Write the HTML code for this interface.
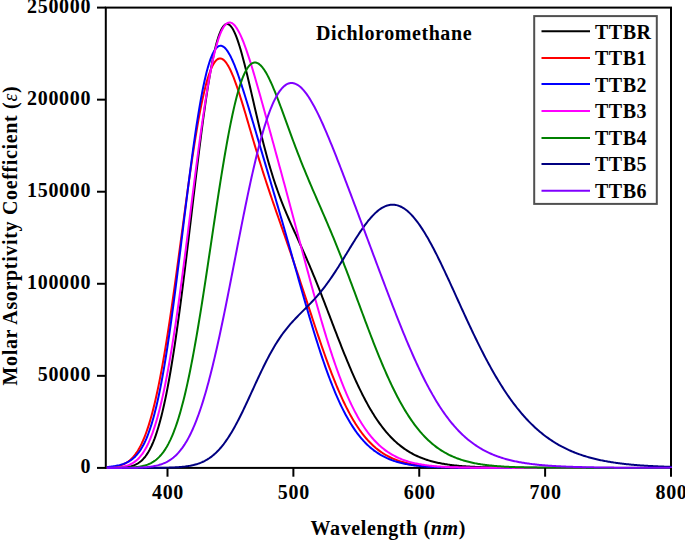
<!DOCTYPE html>
<html><head><meta charset="utf-8"><style>
html,body{margin:0;padding:0;background:#fff;overflow:hidden}
svg{display:block}
text{font-family:"Liberation Serif",serif;font-weight:bold;font-size:20px;fill:#000}
.lt{letter-spacing:0.5px}
.nl{letter-spacing:0.7px}
</style></head><body>
<svg width="685" height="540" viewBox="0 0 685 540">
<rect width="685" height="540" fill="#fff"/>
<rect x="105.8" y="7.6" width="565.20" height="460.30" fill="none" stroke="#000" stroke-width="2"/>
<g fill="none" stroke-width="2" stroke-linejoin="round">
<path d="M106.8,467.89 L107.5,467.89 L108.5,467.88 L109.5,467.88 L110.5,467.87 L111.5,467.86 L112.5,467.85 L113.5,467.84 L114.5,467.82 L115.5,467.81 L116.5,467.78 L117.5,467.76 L118.5,467.72 L119.5,467.68 L120.5,467.64 L121.5,467.58 L122.5,467.51 L123.5,467.44 L124.5,467.34 L125.5,467.23 L126.5,467.11 L127.5,466.96 L128.5,466.79 L129.5,466.59 L130.5,466.36 L131.5,466.10 L132.5,465.80 L133.5,465.46 L134.5,465.08 L135.5,464.64 L136.5,464.15 L137.5,463.60 L138.5,462.98 L139.5,462.28 L140.5,461.51 L141.5,460.66 L142.5,459.71 L143.5,458.67 L144.5,457.52 L145.5,456.26 L146.5,454.89 L147.5,453.38 L148.5,451.75 L149.5,449.98 L150.5,448.06 L151.5,445.99 L152.5,443.77 L153.5,441.38 L154.5,438.82 L155.5,436.08 L156.5,433.16 L157.5,430.06 L158.5,426.77 L159.5,423.28 L160.5,419.60 L161.5,415.71 L162.5,411.63 L163.5,407.33 L164.5,402.83 L165.5,398.13 L166.5,393.21 L167.5,388.09 L168.5,382.76 L169.5,377.22 L170.5,371.48 L171.5,365.54 L172.5,359.40 L173.5,353.07 L174.5,346.55 L175.5,339.84 L176.5,332.96 L177.5,325.90 L178.5,318.68 L179.5,311.30 L180.5,303.78 L181.5,296.11 L182.5,288.31 L183.5,280.39 L184.5,272.36 L185.5,264.23 L186.5,256.01 L187.5,247.72 L188.5,239.37 L189.5,230.96 L190.5,222.53 L191.5,214.08 L192.5,205.62 L193.5,197.18 L194.5,188.76 L195.5,180.38 L196.5,172.07 L197.5,163.83 L198.5,155.69 L199.5,147.66 L200.5,139.75 L201.5,131.99 L202.5,124.39 L203.5,116.97 L204.5,109.74 L205.5,102.73 L206.5,95.93 L207.5,89.38 L208.5,83.09 L209.5,77.06 L210.5,71.31 L211.5,65.85 L212.5,60.70 L213.5,55.86 L214.5,51.35 L215.5,47.16 L216.5,43.32 L217.5,39.81 L218.5,36.66 L219.5,33.85 L220.5,31.40 L221.5,29.30 L222.5,27.55 L223.5,26.16 L224.5,25.11 L225.5,24.41 L226.5,24.04 L227.5,24.01 L228.5,24.31 L229.5,24.92 L230.5,25.83 L231.5,27.05 L232.5,28.55 L233.5,30.32 L234.5,32.36 L235.5,34.65 L236.5,37.17 L237.5,39.91 L238.5,42.86 L239.5,46.00 L240.5,49.32 L241.5,52.80 L242.5,56.43 L243.5,60.19 L244.5,64.07 L245.5,68.06 L246.5,72.13 L247.5,76.28 L248.5,80.50 L249.5,84.76 L250.5,89.06 L251.5,93.39 L252.5,97.73 L253.5,102.07 L254.5,106.41 L255.5,110.72 L256.5,115.02 L257.5,119.27 L258.5,123.49 L259.5,127.66 L260.5,131.77 L261.5,135.82 L262.5,139.81 L263.5,143.73 L264.5,147.58 L265.5,151.35 L266.5,155.04 L267.5,158.66 L268.5,162.20 L269.5,165.65 L270.5,169.03 L271.5,172.32 L272.5,175.54 L273.5,178.68 L274.5,181.74 L275.5,184.73 L276.5,187.65 L277.5,190.50 L278.5,193.28 L279.5,196.00 L280.5,198.67 L281.5,201.27 L282.5,203.82 L283.5,206.33 L284.5,208.79 L285.5,211.21 L286.5,213.59 L287.5,215.94 L288.5,218.25 L289.5,220.55 L290.5,222.81 L291.5,225.06 L292.5,227.30 L293.5,229.52 L294.5,231.73 L295.5,233.94 L296.5,236.14 L297.5,238.35 L298.5,240.55 L299.5,242.76 L300.5,244.98 L301.5,247.20 L302.5,249.44 L303.5,251.68 L304.5,253.94 L305.5,256.22 L306.5,258.51 L307.5,260.82 L308.5,263.14 L309.5,265.48 L310.5,267.85 L311.5,270.22 L312.5,272.62 L313.5,275.04 L314.5,277.47 L315.5,279.93 L316.5,282.40 L317.5,284.89 L318.5,287.39 L319.5,289.91 L320.5,292.44 L321.5,294.99 L322.5,297.55 L323.5,300.12 L324.5,302.70 L325.5,305.29 L326.5,307.89 L327.5,310.49 L328.5,313.10 L329.5,315.71 L330.5,318.33 L331.5,320.94 L332.5,323.55 L333.5,326.16 L334.5,328.77 L335.5,331.37 L336.5,333.96 L337.5,336.54 L338.5,339.11 L339.5,341.68 L340.5,344.23 L341.5,346.76 L342.5,349.28 L343.5,351.78 L344.5,354.27 L345.5,356.73 L346.5,359.17 L347.5,361.59 L348.5,363.99 L349.5,366.37 L350.5,368.72 L351.5,371.04 L352.5,373.34 L353.5,375.61 L354.5,377.85 L355.5,380.06 L356.5,382.24 L357.5,384.40 L358.5,386.52 L359.5,388.60 L360.5,390.66 L361.5,392.68 L362.5,394.68 L363.5,396.63 L364.5,398.56 L365.5,400.45 L366.5,402.30 L367.5,404.12 L368.5,405.91 L369.5,407.66 L370.5,409.38 L371.5,411.07 L372.5,412.71 L373.5,414.33 L374.5,415.91 L375.5,417.46 L376.5,418.97 L377.5,420.45 L378.5,421.89 L379.5,423.30 L380.5,424.68 L381.5,426.02 L382.5,427.34 L383.5,428.62 L384.5,429.87 L385.5,431.08 L386.5,432.27 L387.5,433.43 L388.5,434.55 L389.5,435.65 L390.5,436.71 L391.5,437.75 L392.5,438.76 L393.5,439.74 L394.5,440.70 L395.5,441.62 L396.5,442.52 L397.5,443.40 L398.5,444.25 L399.5,445.07 L400.5,445.87 L401.5,446.65 L402.5,447.40 L403.5,448.13 L404.5,448.84 L405.5,449.52 L406.5,450.19 L407.5,450.83 L408.5,451.45 L409.5,452.05 L410.5,452.64 L411.5,453.20 L412.5,453.75 L413.5,454.28 L414.5,454.79 L415.5,455.28 L416.5,455.76 L417.5,456.22 L418.5,456.66 L419.5,457.09 L420.5,457.51 L421.5,457.91 L422.5,458.30 L423.5,458.67 L424.5,459.03 L425.5,459.38 L426.5,459.71 L427.5,460.04 L428.5,460.35 L429.5,460.65 L430.5,460.94 L431.5,461.21 L432.5,461.48 L433.5,461.74 L434.5,461.99 L435.5,462.23 L436.5,462.46 L437.5,462.68 L438.5,462.90 L439.5,463.10 L440.5,463.30 L441.5,463.49 L442.5,463.67 L443.5,463.85 L444.5,464.02 L445.5,464.18 L446.5,464.33 L447.5,464.48 L448.5,464.63 L449.5,464.77 L450.5,464.90 L451.5,465.03 L452.5,465.15 L453.5,465.26 L454.5,465.38 L455.5,465.49 L456.5,465.59 L457.5,465.69 L458.5,465.78 L459.5,465.88 L460.5,465.96 L461.5,466.05 L462.5,466.13 L463.5,466.21 L464.5,466.28 L465.5,466.35 L466.5,466.42 L467.5,466.48 L468.5,466.55 L469.5,466.61 L470.5,466.66 L471.5,466.72 L472.5,466.77 L473.5,466.82 L474.5,466.87 L475.5,466.92 L476.5,466.96 L477.5,467.00 L478.5,467.04 L479.5,467.08 L480.5,467.12 L481.5,467.15 L482.5,467.19 L483.5,467.22 L484.5,467.25 L485.5,467.28 L486.5,467.31 L487.5,467.33 L488.5,467.36 L489.5,467.39 L490.5,467.41 L491.5,467.43 L492.5,467.45 L493.5,467.47 L494.5,467.49 L495.5,467.51 L496.5,467.53 L497.5,467.55 L498.5,467.56 L499.5,467.58 L500.5,467.59 L501.5,467.61 L502.5,467.62 L503.5,467.63 L504.5,467.65 L505.5,467.66 L506.5,467.67 L507.5,467.68 L508.5,467.69 L509.5,467.70 L510.5,467.71 L511.5,467.72 L512.5,467.73 L513.5,467.74 L514.5,467.74 L515.5,467.75 L516.5,467.76 L517.5,467.76 L518.5,467.77 L519.5,467.78 L520.5,467.78 L521.5,467.79 L522.5,467.79 L523.5,467.80 L524.5,467.80 L525.5,467.81 L526.5,467.81 L527.5,467.82 L528.5,467.82 L529.5,467.82 L530.5,467.83 L531.5,467.83 L532.5,467.83 L533.5,467.84 L534.5,467.84 L535.5,467.84 L536.5,467.85 L537.5,467.85 L538.5,467.85 L539.5,467.85 L540.5,467.86 L541.5,467.86 L542.5,467.86 L543.5,467.86 L544.5,467.86 L545.5,467.87 L546.5,467.87 L547.5,467.87 L548.5,467.87 L549.5,467.87 L550.5,467.87 L551.5,467.87 L552.5,467.88 L553.5,467.88 L554.5,467.88 L555.5,467.88 L556.5,467.88 L557.5,467.88 L558.5,467.88 L559.5,467.88 L560.5,467.88 L561.5,467.88 L562.5,467.89 L563.5,467.89 L564.5,467.89 L565.5,467.89 L566.5,467.89 L567.5,467.89 L568.5,467.89 L569.5,467.89 L570.5,467.89 L571.5,467.89 L572.5,467.89 L573.5,467.89 L574.5,467.89 L575.5,467.89 L576.5,467.89 L577.5,467.89 L578.5,467.89 L579.5,467.89 L580.5,467.89 L581.5,467.89 L582.5,467.89 L583.5,467.89 L584.5,467.90 L585.5,467.90 L586.5,467.90 L587.5,467.90 L588.5,467.90 L589.5,467.90 L590.5,467.90 L591.5,467.90 L592.5,467.90 L593.5,467.90 L594.5,467.90 L595.5,467.90 L596.5,467.90 L597.5,467.90 L598.5,467.90 L599.5,467.90 L600.5,467.90 L601.5,467.90 L602.5,467.90 L603.5,467.90 L604.5,467.90 L605.5,467.90 L606.5,467.90 L607.5,467.90 L608.5,467.90 L609.5,467.90 L610.5,467.90 L611.5,467.90 L612.5,467.90 L613.5,467.90 L614.5,467.90 L615.5,467.90 L616.5,467.90 L617.5,467.90 L618.5,467.90 L619.5,467.90 L620.5,467.90 L621.5,467.90 L622.5,467.90 L623.5,467.90 L624.5,467.90 L625.5,467.90 L626.5,467.90 L627.5,467.90 L628.5,467.90 L629.5,467.90 L630.5,467.90 L631.5,467.90 L632.5,467.90 L633.5,467.90 L634.5,467.90 L635.5,467.90 L636.5,467.90 L637.5,467.90 L638.5,467.90 L639.5,467.90 L640.5,467.90 L641.5,467.90 L642.5,467.90 L643.5,467.90 L644.5,467.90 L645.5,467.90 L646.5,467.90 L647.5,467.90 L648.5,467.90 L649.5,467.90 L650.5,467.90 L651.5,467.90 L652.5,467.90 L653.5,467.90 L654.5,467.90 L655.5,467.90 L656.5,467.90 L657.5,467.90 L658.5,467.90 L659.5,467.90 L660.5,467.90 L661.5,467.90 L662.5,467.90 L663.5,467.90 L664.5,467.90 L665.5,467.90 L666.5,467.90 L667.5,467.90 L668.5,467.90 L669.5,467.90 L670.5,467.90 L671.5,467.90 L672.0,467.90" stroke="#000000"/>
<path d="M106.8,467.57 L107.5,467.53 L108.5,467.47 L109.5,467.39 L110.5,467.31 L111.5,467.21 L112.5,467.09 L113.5,466.96 L114.5,466.81 L115.5,466.64 L116.5,466.45 L117.5,466.23 L118.5,465.98 L119.5,465.70 L120.5,465.39 L121.5,465.05 L122.5,464.66 L123.5,464.23 L124.5,463.75 L125.5,463.22 L126.5,462.63 L127.5,461.99 L128.5,461.28 L129.5,460.50 L130.5,459.65 L131.5,458.71 L132.5,457.70 L133.5,456.59 L134.5,455.40 L135.5,454.10 L136.5,452.70 L137.5,451.19 L138.5,449.56 L139.5,447.81 L140.5,445.94 L141.5,443.93 L142.5,441.79 L143.5,439.51 L144.5,437.09 L145.5,434.51 L146.5,431.78 L147.5,428.89 L148.5,425.84 L149.5,422.63 L150.5,419.24 L151.5,415.68 L152.5,411.95 L153.5,408.04 L154.5,403.96 L155.5,399.70 L156.5,395.25 L157.5,390.63 L158.5,385.83 L159.5,380.85 L160.5,375.70 L161.5,370.37 L162.5,364.87 L163.5,359.20 L164.5,353.37 L165.5,347.38 L166.5,341.23 L167.5,334.94 L168.5,328.50 L169.5,321.93 L170.5,315.23 L171.5,308.40 L172.5,301.47 L173.5,294.43 L174.5,287.31 L175.5,280.10 L176.5,272.81 L177.5,265.47 L178.5,258.08 L179.5,250.65 L180.5,243.19 L181.5,235.73 L182.5,228.26 L183.5,220.81 L184.5,213.38 L185.5,206.00 L186.5,198.67 L187.5,191.41 L188.5,184.22 L189.5,177.13 L190.5,170.15 L191.5,163.29 L192.5,156.57 L193.5,149.98 L194.5,143.56 L195.5,137.31 L196.5,131.24 L197.5,125.36 L198.5,119.68 L199.5,114.22 L200.5,108.98 L201.5,103.97 L202.5,99.20 L203.5,94.67 L204.5,90.40 L205.5,86.38 L206.5,82.63 L207.5,79.15 L208.5,75.93 L209.5,72.98 L210.5,70.31 L211.5,67.92 L212.5,65.80 L213.5,63.95 L214.5,62.38 L215.5,61.08 L216.5,60.04 L217.5,59.26 L218.5,58.75 L219.5,58.49 L220.5,58.47 L221.5,58.70 L222.5,59.16 L223.5,59.84 L224.5,60.75 L225.5,61.86 L226.5,63.18 L227.5,64.69 L228.5,66.38 L229.5,68.24 L230.5,70.27 L231.5,72.46 L232.5,74.78 L233.5,77.24 L234.5,79.83 L235.5,82.53 L236.5,85.34 L237.5,88.24 L238.5,91.23 L239.5,94.30 L240.5,97.43 L241.5,100.62 L242.5,103.87 L243.5,107.16 L244.5,110.48 L245.5,113.83 L246.5,117.21 L247.5,120.60 L248.5,124.00 L249.5,127.41 L250.5,130.82 L251.5,134.22 L252.5,137.61 L253.5,140.99 L254.5,144.36 L255.5,147.70 L256.5,151.03 L257.5,154.33 L258.5,157.60 L259.5,160.85 L260.5,164.07 L261.5,167.27 L262.5,170.44 L263.5,173.58 L264.5,176.69 L265.5,179.78 L266.5,182.84 L267.5,185.87 L268.5,188.88 L269.5,191.87 L270.5,194.84 L271.5,197.79 L272.5,200.72 L273.5,203.64 L274.5,206.54 L275.5,209.43 L276.5,212.31 L277.5,215.18 L278.5,218.04 L279.5,220.90 L280.5,223.76 L281.5,226.62 L282.5,229.48 L283.5,232.34 L284.5,235.20 L285.5,238.07 L286.5,240.94 L287.5,243.83 L288.5,246.72 L289.5,249.61 L290.5,252.52 L291.5,255.44 L292.5,258.37 L293.5,261.31 L294.5,264.26 L295.5,267.23 L296.5,270.20 L297.5,273.19 L298.5,276.18 L299.5,279.19 L300.5,282.20 L301.5,285.22 L302.5,288.25 L303.5,291.29 L304.5,294.33 L305.5,297.37 L306.5,300.42 L307.5,303.47 L308.5,306.52 L309.5,309.57 L310.5,312.61 L311.5,315.65 L312.5,318.69 L313.5,321.71 L314.5,324.73 L315.5,327.74 L316.5,330.73 L317.5,333.72 L318.5,336.68 L319.5,339.63 L320.5,342.55 L321.5,345.46 L322.5,348.35 L323.5,351.21 L324.5,354.04 L325.5,356.85 L326.5,359.63 L327.5,362.38 L328.5,365.10 L329.5,367.79 L330.5,370.44 L331.5,373.06 L332.5,375.64 L333.5,378.19 L334.5,380.70 L335.5,383.17 L336.5,385.60 L337.5,387.99 L338.5,390.34 L339.5,392.65 L340.5,394.91 L341.5,397.14 L342.5,399.32 L343.5,401.45 L344.5,403.55 L345.5,405.60 L346.5,407.61 L347.5,409.57 L348.5,411.49 L349.5,413.36 L350.5,415.19 L351.5,416.98 L352.5,418.72 L353.5,420.42 L354.5,422.08 L355.5,423.69 L356.5,425.26 L357.5,426.79 L358.5,428.27 L359.5,429.72 L360.5,431.12 L361.5,432.49 L362.5,433.81 L363.5,435.10 L364.5,436.34 L365.5,437.55 L366.5,438.73 L367.5,439.86 L368.5,440.96 L369.5,442.02 L370.5,443.05 L371.5,444.05 L372.5,445.01 L373.5,445.94 L374.5,446.84 L375.5,447.71 L376.5,448.54 L377.5,449.35 L378.5,450.13 L379.5,450.88 L380.5,451.60 L381.5,452.30 L382.5,452.97 L383.5,453.62 L384.5,454.24 L385.5,454.84 L386.5,455.41 L387.5,455.97 L388.5,456.50 L389.5,457.01 L390.5,457.50 L391.5,457.97 L392.5,458.42 L393.5,458.85 L394.5,459.27 L395.5,459.67 L396.5,460.05 L397.5,460.42 L398.5,460.77 L399.5,461.10 L400.5,461.42 L401.5,461.73 L402.5,462.03 L403.5,462.31 L404.5,462.58 L405.5,462.83 L406.5,463.08 L407.5,463.32 L408.5,463.54 L409.5,463.75 L410.5,463.96 L411.5,464.15 L412.5,464.34 L413.5,464.52 L414.5,464.69 L415.5,464.85 L416.5,465.00 L417.5,465.15 L418.5,465.29 L419.5,465.42 L420.5,465.55 L421.5,465.67 L422.5,465.79 L423.5,465.89 L424.5,466.00 L425.5,466.10 L426.5,466.19 L427.5,466.28 L428.5,466.37 L429.5,466.45 L430.5,466.52 L431.5,466.60 L432.5,466.67 L433.5,466.73 L434.5,466.79 L435.5,466.85 L436.5,466.91 L437.5,466.96 L438.5,467.01 L439.5,467.06 L440.5,467.11 L441.5,467.15 L442.5,467.19 L443.5,467.23 L444.5,467.27 L445.5,467.30 L446.5,467.34 L447.5,467.37 L448.5,467.40 L449.5,467.42 L450.5,467.45 L451.5,467.48 L452.5,467.50 L453.5,467.52 L454.5,467.54 L455.5,467.56 L456.5,467.58 L457.5,467.60 L458.5,467.62 L459.5,467.63 L460.5,467.65 L461.5,467.66 L462.5,467.68 L463.5,467.69 L464.5,467.70 L465.5,467.71 L466.5,467.72 L467.5,467.73 L468.5,467.74 L469.5,467.75 L470.5,467.76 L471.5,467.77 L472.5,467.78 L473.5,467.78 L474.5,467.79 L475.5,467.80 L476.5,467.80 L477.5,467.81 L478.5,467.81 L479.5,467.82 L480.5,467.82 L481.5,467.83 L482.5,467.83 L483.5,467.84 L484.5,467.84 L485.5,467.84 L486.5,467.85 L487.5,467.85 L488.5,467.85 L489.5,467.86 L490.5,467.86 L491.5,467.86 L492.5,467.86 L493.5,467.87 L494.5,467.87 L495.5,467.87 L496.5,467.87 L497.5,467.87 L498.5,467.87 L499.5,467.88 L500.5,467.88 L501.5,467.88 L502.5,467.88 L503.5,467.88 L504.5,467.88 L505.5,467.88 L506.5,467.88 L507.5,467.89 L508.5,467.89 L509.5,467.89 L510.5,467.89 L511.5,467.89 L512.5,467.89 L513.5,467.89 L514.5,467.89 L515.5,467.89 L516.5,467.89 L517.5,467.89 L518.5,467.89 L519.5,467.89 L520.5,467.89 L521.5,467.89 L522.5,467.89 L523.5,467.89 L524.5,467.90 L525.5,467.90 L526.5,467.90 L527.5,467.90 L528.5,467.90 L529.5,467.90 L530.5,467.90 L531.5,467.90 L532.5,467.90 L533.5,467.90 L534.5,467.90 L535.5,467.90 L536.5,467.90 L537.5,467.90 L538.5,467.90 L539.5,467.90 L540.5,467.90 L541.5,467.90 L542.5,467.90 L543.5,467.90 L544.5,467.90 L545.5,467.90 L546.5,467.90 L547.5,467.90 L548.5,467.90 L549.5,467.90 L550.5,467.90 L551.5,467.90 L552.5,467.90 L553.5,467.90 L554.5,467.90 L555.5,467.90 L556.5,467.90 L557.5,467.90 L558.5,467.90 L559.5,467.90 L560.5,467.90 L561.5,467.90 L562.5,467.90 L563.5,467.90 L564.5,467.90 L565.5,467.90 L566.5,467.90 L567.5,467.90 L568.5,467.90 L569.5,467.90 L570.5,467.90 L571.5,467.90 L572.5,467.90 L573.5,467.90 L574.5,467.90 L575.5,467.90 L576.5,467.90 L577.5,467.90 L578.5,467.90 L579.5,467.90 L580.5,467.90 L581.5,467.90 L582.5,467.90 L583.5,467.90 L584.5,467.90 L585.5,467.90 L586.5,467.90 L587.5,467.90 L588.5,467.90 L589.5,467.90 L590.5,467.90 L591.5,467.90 L592.5,467.90 L593.5,467.90 L594.5,467.90 L595.5,467.90 L596.5,467.90 L597.5,467.90 L598.5,467.90 L599.5,467.90 L600.5,467.90 L601.5,467.90 L602.5,467.90 L603.5,467.90 L604.5,467.90 L605.5,467.90 L606.5,467.90 L607.5,467.90 L608.5,467.90 L609.5,467.90 L610.5,467.90 L611.5,467.90 L612.5,467.90 L613.5,467.90 L614.5,467.90 L615.5,467.90 L616.5,467.90 L617.5,467.90 L618.5,467.90 L619.5,467.90 L620.5,467.90 L621.5,467.90 L622.5,467.90 L623.5,467.90 L624.5,467.90 L625.5,467.90 L626.5,467.90 L627.5,467.90 L628.5,467.90 L629.5,467.90 L630.5,467.90 L631.5,467.90 L632.5,467.90 L633.5,467.90 L634.5,467.90 L635.5,467.90 L636.5,467.90 L637.5,467.90 L638.5,467.90 L639.5,467.90 L640.5,467.90 L641.5,467.90 L642.5,467.90 L643.5,467.90 L644.5,467.90 L645.5,467.90 L646.5,467.90 L647.5,467.90 L648.5,467.90 L649.5,467.90 L650.5,467.90 L651.5,467.90 L652.5,467.90 L653.5,467.90 L654.5,467.90 L655.5,467.90 L656.5,467.90 L657.5,467.90 L658.5,467.90 L659.5,467.90 L660.5,467.90 L661.5,467.90 L662.5,467.90 L663.5,467.90 L664.5,467.90 L665.5,467.90 L666.5,467.90 L667.5,467.90 L668.5,467.90 L669.5,467.90 L670.5,467.90 L671.5,467.90 L672.0,467.90" stroke="#ff0000"/>
<path d="M106.8,467.05 L107.5,466.99 L108.5,466.90 L109.5,466.80 L110.5,466.69 L111.5,466.57 L112.5,466.44 L113.5,466.29 L114.5,466.14 L115.5,465.97 L116.5,465.78 L117.5,465.58 L118.5,465.36 L119.5,465.12 L120.5,464.85 L121.5,464.56 L122.5,464.25 L123.5,463.90 L124.5,463.52 L125.5,463.11 L126.5,462.66 L127.5,462.16 L128.5,461.62 L129.5,461.03 L130.5,460.39 L131.5,459.69 L132.5,458.92 L133.5,458.09 L134.5,457.18 L135.5,456.19 L136.5,455.12 L137.5,453.95 L138.5,452.69 L139.5,451.32 L140.5,449.85 L141.5,448.25 L142.5,446.53 L143.5,444.69 L144.5,442.70 L145.5,440.57 L146.5,438.29 L147.5,435.84 L148.5,433.24 L149.5,430.46 L150.5,427.51 L151.5,424.37 L152.5,421.04 L153.5,417.52 L154.5,413.80 L155.5,409.87 L156.5,405.74 L157.5,401.40 L158.5,396.85 L159.5,392.08 L160.5,387.10 L161.5,381.91 L162.5,376.50 L163.5,370.88 L164.5,365.05 L165.5,359.01 L166.5,352.77 L167.5,346.34 L168.5,339.71 L169.5,332.90 L170.5,325.92 L171.5,318.76 L172.5,311.46 L173.5,304.00 L174.5,296.42 L175.5,288.71 L176.5,280.89 L177.5,272.97 L178.5,264.98 L179.5,256.92 L180.5,248.81 L181.5,240.67 L182.5,232.51 L183.5,224.35 L184.5,216.20 L185.5,208.09 L186.5,200.03 L187.5,192.03 L188.5,184.12 L189.5,176.31 L190.5,168.61 L191.5,161.05 L192.5,153.63 L193.5,146.38 L194.5,139.31 L195.5,132.43 L196.5,125.75 L197.5,119.29 L198.5,113.06 L199.5,107.07 L200.5,101.33 L201.5,95.85 L202.5,90.64 L203.5,85.70 L204.5,81.04 L205.5,76.66 L206.5,72.58 L207.5,68.78 L208.5,65.29 L209.5,62.08 L210.5,59.17 L211.5,56.56 L212.5,54.24 L213.5,52.21 L214.5,50.46 L215.5,49.00 L216.5,47.82 L217.5,46.91 L218.5,46.26 L219.5,45.87 L220.5,45.74 L221.5,45.85 L222.5,46.19 L223.5,46.76 L224.5,47.54 L225.5,48.54 L226.5,49.73 L227.5,51.11 L228.5,52.67 L229.5,54.39 L230.5,56.28 L231.5,58.32 L232.5,60.49 L233.5,62.80 L234.5,65.23 L235.5,67.76 L236.5,70.41 L237.5,73.14 L238.5,75.96 L239.5,78.86 L240.5,81.83 L241.5,84.86 L242.5,87.95 L243.5,91.09 L244.5,94.27 L245.5,97.49 L246.5,100.74 L247.5,104.02 L248.5,107.33 L249.5,110.65 L250.5,113.99 L251.5,117.35 L252.5,120.71 L253.5,124.08 L254.5,127.46 L255.5,130.84 L256.5,134.22 L257.5,137.61 L258.5,140.99 L259.5,144.37 L260.5,147.76 L261.5,151.14 L262.5,154.52 L263.5,157.90 L264.5,161.27 L265.5,164.65 L266.5,168.03 L267.5,171.40 L268.5,174.78 L269.5,178.16 L270.5,181.55 L271.5,184.93 L272.5,188.32 L273.5,191.72 L274.5,195.12 L275.5,198.53 L276.5,201.94 L277.5,205.36 L278.5,208.79 L279.5,212.23 L280.5,215.67 L281.5,219.13 L282.5,222.59 L283.5,226.06 L284.5,229.54 L285.5,233.03 L286.5,236.53 L287.5,240.04 L288.5,243.55 L289.5,247.07 L290.5,250.59 L291.5,254.13 L292.5,257.66 L293.5,261.20 L294.5,264.74 L295.5,268.28 L296.5,271.82 L297.5,275.35 L298.5,278.89 L299.5,282.42 L300.5,285.94 L301.5,289.46 L302.5,292.97 L303.5,296.46 L304.5,299.95 L305.5,303.41 L306.5,306.87 L307.5,310.30 L308.5,313.72 L309.5,317.11 L310.5,320.48 L311.5,323.83 L312.5,327.15 L313.5,330.45 L314.5,333.71 L315.5,336.95 L316.5,340.15 L317.5,343.32 L318.5,346.45 L319.5,349.55 L320.5,352.61 L321.5,355.63 L322.5,358.61 L323.5,361.55 L324.5,364.44 L325.5,367.30 L326.5,370.11 L327.5,372.87 L328.5,375.59 L329.5,378.27 L330.5,380.89 L331.5,383.47 L332.5,386.00 L333.5,388.49 L334.5,390.92 L335.5,393.31 L336.5,395.64 L337.5,397.93 L338.5,400.17 L339.5,402.35 L340.5,404.49 L341.5,406.58 L342.5,408.62 L343.5,410.61 L344.5,412.56 L345.5,414.45 L346.5,416.30 L347.5,418.09 L348.5,419.84 L349.5,421.55 L350.5,423.21 L351.5,424.82 L352.5,426.38 L353.5,427.91 L354.5,429.38 L355.5,430.82 L356.5,432.21 L357.5,433.56 L358.5,434.87 L359.5,436.14 L360.5,437.37 L361.5,438.56 L362.5,439.71 L363.5,440.82 L364.5,441.90 L365.5,442.94 L366.5,443.95 L367.5,444.92 L368.5,445.86 L369.5,446.76 L370.5,447.64 L371.5,448.48 L372.5,449.29 L373.5,450.08 L374.5,450.83 L375.5,451.56 L376.5,452.26 L377.5,452.93 L378.5,453.58 L379.5,454.21 L380.5,454.81 L381.5,455.38 L382.5,455.94 L383.5,456.47 L384.5,456.98 L385.5,457.47 L386.5,457.94 L387.5,458.40 L388.5,458.83 L389.5,459.24 L390.5,459.64 L391.5,460.03 L392.5,460.39 L393.5,460.74 L394.5,461.08 L395.5,461.40 L396.5,461.71 L397.5,462.00 L398.5,462.28 L399.5,462.55 L400.5,462.81 L401.5,463.05 L402.5,463.29 L403.5,463.51 L404.5,463.73 L405.5,463.93 L406.5,464.13 L407.5,464.31 L408.5,464.49 L409.5,464.66 L410.5,464.82 L411.5,464.98 L412.5,465.12 L413.5,465.26 L414.5,465.40 L415.5,465.52 L416.5,465.64 L417.5,465.76 L418.5,465.87 L419.5,465.97 L420.5,466.07 L421.5,466.17 L422.5,466.26 L423.5,466.34 L424.5,466.42 L425.5,466.50 L426.5,466.57 L427.5,466.64 L428.5,466.71 L429.5,466.77 L430.5,466.83 L431.5,466.89 L432.5,466.94 L433.5,466.99 L434.5,467.04 L435.5,467.09 L436.5,467.13 L437.5,467.17 L438.5,467.21 L439.5,467.25 L440.5,467.29 L441.5,467.32 L442.5,467.35 L443.5,467.38 L444.5,467.41 L445.5,467.44 L446.5,467.46 L447.5,467.49 L448.5,467.51 L449.5,467.53 L450.5,467.55 L451.5,467.57 L452.5,467.59 L453.5,467.61 L454.5,467.62 L455.5,467.64 L456.5,467.65 L457.5,467.67 L458.5,467.68 L459.5,467.69 L460.5,467.70 L461.5,467.71 L462.5,467.73 L463.5,467.74 L464.5,467.74 L465.5,467.75 L466.5,467.76 L467.5,467.77 L468.5,467.78 L469.5,467.78 L470.5,467.79 L471.5,467.80 L472.5,467.80 L473.5,467.81 L474.5,467.81 L475.5,467.82 L476.5,467.82 L477.5,467.83 L478.5,467.83 L479.5,467.84 L480.5,467.84 L481.5,467.84 L482.5,467.85 L483.5,467.85 L484.5,467.85 L485.5,467.86 L486.5,467.86 L487.5,467.86 L488.5,467.86 L489.5,467.87 L490.5,467.87 L491.5,467.87 L492.5,467.87 L493.5,467.87 L494.5,467.87 L495.5,467.88 L496.5,467.88 L497.5,467.88 L498.5,467.88 L499.5,467.88 L500.5,467.88 L501.5,467.88 L502.5,467.88 L503.5,467.89 L504.5,467.89 L505.5,467.89 L506.5,467.89 L507.5,467.89 L508.5,467.89 L509.5,467.89 L510.5,467.89 L511.5,467.89 L512.5,467.89 L513.5,467.89 L514.5,467.89 L515.5,467.89 L516.5,467.89 L517.5,467.89 L518.5,467.89 L519.5,467.89 L520.5,467.89 L521.5,467.90 L522.5,467.90 L523.5,467.90 L524.5,467.90 L525.5,467.90 L526.5,467.90 L527.5,467.90 L528.5,467.90 L529.5,467.90 L530.5,467.90 L531.5,467.90 L532.5,467.90 L533.5,467.90 L534.5,467.90 L535.5,467.90 L536.5,467.90 L537.5,467.90 L538.5,467.90 L539.5,467.90 L540.5,467.90 L541.5,467.90 L542.5,467.90 L543.5,467.90 L544.5,467.90 L545.5,467.90 L546.5,467.90 L547.5,467.90 L548.5,467.90 L549.5,467.90 L550.5,467.90 L551.5,467.90 L552.5,467.90 L553.5,467.90 L554.5,467.90 L555.5,467.90 L556.5,467.90 L557.5,467.90 L558.5,467.90 L559.5,467.90 L560.5,467.90 L561.5,467.90 L562.5,467.90 L563.5,467.90 L564.5,467.90 L565.5,467.90 L566.5,467.90 L567.5,467.90 L568.5,467.90 L569.5,467.90 L570.5,467.90 L571.5,467.90 L572.5,467.90 L573.5,467.90 L574.5,467.90 L575.5,467.90 L576.5,467.90 L577.5,467.90 L578.5,467.90 L579.5,467.90 L580.5,467.90 L581.5,467.90 L582.5,467.90 L583.5,467.90 L584.5,467.90 L585.5,467.90 L586.5,467.90 L587.5,467.90 L588.5,467.90 L589.5,467.90 L590.5,467.90 L591.5,467.90 L592.5,467.90 L593.5,467.90 L594.5,467.90 L595.5,467.90 L596.5,467.90 L597.5,467.90 L598.5,467.90 L599.5,467.90 L600.5,467.90 L601.5,467.90 L602.5,467.90 L603.5,467.90 L604.5,467.90 L605.5,467.90 L606.5,467.90 L607.5,467.90 L608.5,467.90 L609.5,467.90 L610.5,467.90 L611.5,467.90 L612.5,467.90 L613.5,467.90 L614.5,467.90 L615.5,467.90 L616.5,467.90 L617.5,467.90 L618.5,467.90 L619.5,467.90 L620.5,467.90 L621.5,467.90 L622.5,467.90 L623.5,467.90 L624.5,467.90 L625.5,467.90 L626.5,467.90 L627.5,467.90 L628.5,467.90 L629.5,467.90 L630.5,467.90 L631.5,467.90 L632.5,467.90 L633.5,467.90 L634.5,467.90 L635.5,467.90 L636.5,467.90 L637.5,467.90 L638.5,467.90 L639.5,467.90 L640.5,467.90 L641.5,467.90 L642.5,467.90 L643.5,467.90 L644.5,467.90 L645.5,467.90 L646.5,467.90 L647.5,467.90 L648.5,467.90 L649.5,467.90 L650.5,467.90 L651.5,467.90 L652.5,467.90 L653.5,467.90 L654.5,467.90 L655.5,467.90 L656.5,467.90 L657.5,467.90 L658.5,467.90 L659.5,467.90 L660.5,467.90 L661.5,467.90 L662.5,467.90 L663.5,467.90 L664.5,467.90 L665.5,467.90 L666.5,467.90 L667.5,467.90 L668.5,467.90 L669.5,467.90 L670.5,467.90 L671.5,467.90 L672.0,467.90" stroke="#0000ff"/>
<path d="M106.8,467.83 L107.5,467.82 L108.5,467.80 L109.5,467.78 L110.5,467.76 L111.5,467.73 L112.5,467.69 L113.5,467.65 L114.5,467.59 L115.5,467.53 L116.5,467.46 L117.5,467.38 L118.5,467.28 L119.5,467.17 L120.5,467.05 L121.5,466.90 L122.5,466.73 L123.5,466.54 L124.5,466.32 L125.5,466.07 L126.5,465.78 L127.5,465.46 L128.5,465.11 L129.5,464.70 L130.5,464.26 L131.5,463.76 L132.5,463.20 L133.5,462.59 L134.5,461.91 L135.5,461.16 L136.5,460.33 L137.5,459.43 L138.5,458.45 L139.5,457.37 L140.5,456.21 L141.5,454.94 L142.5,453.57 L143.5,452.09 L144.5,450.49 L145.5,448.78 L146.5,446.94 L147.5,444.97 L148.5,442.87 L149.5,440.63 L150.5,438.24 L151.5,435.71 L152.5,433.03 L153.5,430.19 L154.5,427.19 L155.5,424.03 L156.5,420.71 L157.5,417.22 L158.5,413.55 L159.5,409.71 L160.5,405.70 L161.5,401.51 L162.5,397.14 L163.5,392.60 L164.5,387.87 L165.5,382.96 L166.5,377.88 L167.5,372.62 L168.5,367.18 L169.5,361.56 L170.5,355.77 L171.5,349.81 L172.5,343.68 L173.5,337.39 L174.5,330.94 L175.5,324.33 L176.5,317.57 L177.5,310.68 L178.5,303.64 L179.5,296.48 L180.5,289.19 L181.5,281.79 L182.5,274.29 L183.5,266.69 L184.5,259.01 L185.5,251.26 L186.5,243.44 L187.5,235.57 L188.5,227.67 L189.5,219.74 L190.5,211.80 L191.5,203.85 L192.5,195.93 L193.5,188.03 L194.5,180.17 L195.5,172.38 L196.5,164.65 L197.5,157.01 L198.5,149.47 L199.5,142.05 L200.5,134.75 L201.5,127.60 L202.5,120.60 L203.5,113.77 L204.5,107.13 L205.5,100.67 L206.5,94.43 L207.5,88.40 L208.5,82.59 L209.5,77.02 L210.5,71.70 L211.5,66.63 L212.5,61.82 L213.5,57.27 L214.5,53.00 L215.5,49.00 L216.5,45.28 L217.5,41.85 L218.5,38.70 L219.5,35.83 L220.5,33.25 L221.5,30.96 L222.5,28.94 L223.5,27.21 L224.5,25.76 L225.5,24.58 L226.5,23.66 L227.5,23.01 L228.5,22.62 L229.5,22.48 L230.5,22.58 L231.5,22.91 L232.5,23.48 L233.5,24.26 L234.5,25.26 L235.5,26.46 L236.5,27.85 L237.5,29.43 L238.5,31.18 L239.5,33.10 L240.5,35.17 L241.5,37.39 L242.5,39.75 L243.5,42.24 L244.5,44.85 L245.5,47.57 L246.5,50.39 L247.5,53.31 L248.5,56.31 L249.5,59.40 L250.5,62.56 L251.5,65.78 L252.5,69.06 L253.5,72.40 L254.5,75.78 L255.5,79.21 L256.5,82.67 L257.5,86.17 L258.5,89.69 L259.5,93.24 L260.5,96.81 L261.5,100.40 L262.5,104.00 L263.5,107.61 L264.5,111.24 L265.5,114.87 L266.5,118.51 L267.5,122.16 L268.5,125.81 L269.5,129.47 L270.5,133.12 L271.5,136.78 L272.5,140.45 L273.5,144.11 L274.5,147.78 L275.5,151.45 L276.5,155.12 L277.5,158.80 L278.5,162.47 L279.5,166.15 L280.5,169.84 L281.5,173.53 L282.5,177.22 L283.5,180.91 L284.5,184.61 L285.5,188.32 L286.5,192.03 L287.5,195.74 L288.5,199.46 L289.5,203.19 L290.5,206.92 L291.5,210.66 L292.5,214.40 L293.5,218.14 L294.5,221.89 L295.5,225.64 L296.5,229.40 L297.5,233.15 L298.5,236.91 L299.5,240.67 L300.5,244.43 L301.5,248.19 L302.5,251.94 L303.5,255.69 L304.5,259.44 L305.5,263.18 L306.5,266.91 L307.5,270.63 L308.5,274.34 L309.5,278.04 L310.5,281.73 L311.5,285.40 L312.5,289.06 L313.5,292.70 L314.5,296.32 L315.5,299.92 L316.5,303.49 L317.5,307.04 L318.5,310.57 L319.5,314.07 L320.5,317.54 L321.5,320.98 L322.5,324.39 L323.5,327.76 L324.5,331.10 L325.5,334.41 L326.5,337.68 L327.5,340.91 L328.5,344.10 L329.5,347.25 L330.5,350.36 L331.5,353.42 L332.5,356.45 L333.5,359.42 L334.5,362.36 L335.5,365.25 L336.5,368.09 L337.5,370.88 L338.5,373.63 L339.5,376.32 L340.5,378.97 L341.5,381.57 L342.5,384.12 L343.5,386.62 L344.5,389.08 L345.5,391.48 L346.5,393.83 L347.5,396.13 L348.5,398.38 L349.5,400.58 L350.5,402.73 L351.5,404.83 L352.5,406.88 L353.5,408.89 L354.5,410.84 L355.5,412.75 L356.5,414.60 L357.5,416.41 L358.5,418.18 L359.5,419.89 L360.5,421.56 L361.5,423.19 L362.5,424.77 L363.5,426.30 L364.5,427.80 L365.5,429.25 L366.5,430.65 L367.5,432.02 L368.5,433.34 L369.5,434.63 L370.5,435.87 L371.5,437.08 L372.5,438.25 L373.5,439.38 L374.5,440.48 L375.5,441.54 L376.5,442.56 L377.5,443.55 L378.5,444.51 L379.5,445.44 L380.5,446.34 L381.5,447.20 L382.5,448.03 L383.5,448.84 L384.5,449.62 L385.5,450.37 L386.5,451.09 L387.5,451.78 L388.5,452.46 L389.5,453.10 L390.5,453.72 L391.5,454.32 L392.5,454.90 L393.5,455.46 L394.5,455.99 L395.5,456.50 L396.5,457.00 L397.5,457.47 L398.5,457.93 L399.5,458.36 L400.5,458.78 L401.5,459.19 L402.5,459.57 L403.5,459.95 L404.5,460.30 L405.5,460.64 L406.5,460.97 L407.5,461.29 L408.5,461.59 L409.5,461.88 L410.5,462.15 L411.5,462.42 L412.5,462.67 L413.5,462.91 L414.5,463.15 L415.5,463.37 L416.5,463.58 L417.5,463.78 L418.5,463.98 L419.5,464.16 L420.5,464.34 L421.5,464.51 L422.5,464.67 L423.5,464.83 L424.5,464.98 L425.5,465.12 L426.5,465.25 L427.5,465.38 L428.5,465.50 L429.5,465.62 L430.5,465.73 L431.5,465.84 L432.5,465.94 L433.5,466.04 L434.5,466.13 L435.5,466.22 L436.5,466.30 L437.5,466.38 L438.5,466.46 L439.5,466.53 L440.5,466.60 L441.5,466.66 L442.5,466.73 L443.5,466.79 L444.5,466.84 L445.5,466.90 L446.5,466.95 L447.5,467.00 L448.5,467.04 L449.5,467.09 L450.5,467.13 L451.5,467.17 L452.5,467.21 L453.5,467.24 L454.5,467.28 L455.5,467.31 L456.5,467.34 L457.5,467.37 L458.5,467.40 L459.5,467.42 L460.5,467.45 L461.5,467.47 L462.5,467.49 L463.5,467.52 L464.5,467.54 L465.5,467.56 L466.5,467.57 L467.5,467.59 L468.5,467.61 L469.5,467.62 L470.5,467.64 L471.5,467.65 L472.5,467.67 L473.5,467.68 L474.5,467.69 L475.5,467.70 L476.5,467.71 L477.5,467.72 L478.5,467.73 L479.5,467.74 L480.5,467.75 L481.5,467.76 L482.5,467.77 L483.5,467.77 L484.5,467.78 L485.5,467.79 L486.5,467.79 L487.5,467.80 L488.5,467.80 L489.5,467.81 L490.5,467.81 L491.5,467.82 L492.5,467.82 L493.5,467.83 L494.5,467.83 L495.5,467.84 L496.5,467.84 L497.5,467.84 L498.5,467.85 L499.5,467.85 L500.5,467.85 L501.5,467.85 L502.5,467.86 L503.5,467.86 L504.5,467.86 L505.5,467.86 L506.5,467.87 L507.5,467.87 L508.5,467.87 L509.5,467.87 L510.5,467.87 L511.5,467.87 L512.5,467.88 L513.5,467.88 L514.5,467.88 L515.5,467.88 L516.5,467.88 L517.5,467.88 L518.5,467.88 L519.5,467.88 L520.5,467.88 L521.5,467.89 L522.5,467.89 L523.5,467.89 L524.5,467.89 L525.5,467.89 L526.5,467.89 L527.5,467.89 L528.5,467.89 L529.5,467.89 L530.5,467.89 L531.5,467.89 L532.5,467.89 L533.5,467.89 L534.5,467.89 L535.5,467.89 L536.5,467.89 L537.5,467.89 L538.5,467.89 L539.5,467.89 L540.5,467.90 L541.5,467.90 L542.5,467.90 L543.5,467.90 L544.5,467.90 L545.5,467.90 L546.5,467.90 L547.5,467.90 L548.5,467.90 L549.5,467.90 L550.5,467.90 L551.5,467.90 L552.5,467.90 L553.5,467.90 L554.5,467.90 L555.5,467.90 L556.5,467.90 L557.5,467.90 L558.5,467.90 L559.5,467.90 L560.5,467.90 L561.5,467.90 L562.5,467.90 L563.5,467.90 L564.5,467.90 L565.5,467.90 L566.5,467.90 L567.5,467.90 L568.5,467.90 L569.5,467.90 L570.5,467.90 L571.5,467.90 L572.5,467.90 L573.5,467.90 L574.5,467.90 L575.5,467.90 L576.5,467.90 L577.5,467.90 L578.5,467.90 L579.5,467.90 L580.5,467.90 L581.5,467.90 L582.5,467.90 L583.5,467.90 L584.5,467.90 L585.5,467.90 L586.5,467.90 L587.5,467.90 L588.5,467.90 L589.5,467.90 L590.5,467.90 L591.5,467.90 L592.5,467.90 L593.5,467.90 L594.5,467.90 L595.5,467.90 L596.5,467.90 L597.5,467.90 L598.5,467.90 L599.5,467.90 L600.5,467.90 L601.5,467.90 L602.5,467.90 L603.5,467.90 L604.5,467.90 L605.5,467.90 L606.5,467.90 L607.5,467.90 L608.5,467.90 L609.5,467.90 L610.5,467.90 L611.5,467.90 L612.5,467.90 L613.5,467.90 L614.5,467.90 L615.5,467.90 L616.5,467.90 L617.5,467.90 L618.5,467.90 L619.5,467.90 L620.5,467.90 L621.5,467.90 L622.5,467.90 L623.5,467.90 L624.5,467.90 L625.5,467.90 L626.5,467.90 L627.5,467.90 L628.5,467.90 L629.5,467.90 L630.5,467.90 L631.5,467.90 L632.5,467.90 L633.5,467.90 L634.5,467.90 L635.5,467.90 L636.5,467.90 L637.5,467.90 L638.5,467.90 L639.5,467.90 L640.5,467.90 L641.5,467.90 L642.5,467.90 L643.5,467.90 L644.5,467.90 L645.5,467.90 L646.5,467.90 L647.5,467.90 L648.5,467.90 L649.5,467.90 L650.5,467.90 L651.5,467.90 L652.5,467.90 L653.5,467.90 L654.5,467.90 L655.5,467.90 L656.5,467.90 L657.5,467.90 L658.5,467.90 L659.5,467.90 L660.5,467.90 L661.5,467.90 L662.5,467.90 L663.5,467.90 L664.5,467.90 L665.5,467.90 L666.5,467.90 L667.5,467.90 L668.5,467.90 L669.5,467.90 L670.5,467.90 L671.5,467.90 L672.0,467.90" stroke="#ff00ff"/>
<path d="M106.8,467.89 L107.5,467.89 L108.5,467.89 L109.5,467.89 L110.5,467.89 L111.5,467.88 L112.5,467.88 L113.5,467.88 L114.5,467.87 L115.5,467.87 L116.5,467.86 L117.5,467.85 L118.5,467.85 L119.5,467.84 L120.5,467.82 L121.5,467.81 L122.5,467.79 L123.5,467.77 L124.5,467.75 L125.5,467.73 L126.5,467.70 L127.5,467.66 L128.5,467.63 L129.5,467.58 L130.5,467.53 L131.5,467.47 L132.5,467.41 L133.5,467.33 L134.5,467.25 L135.5,467.15 L136.5,467.04 L137.5,466.92 L138.5,466.79 L139.5,466.63 L140.5,466.46 L141.5,466.27 L142.5,466.06 L143.5,465.82 L144.5,465.56 L145.5,465.27 L146.5,464.95 L147.5,464.59 L148.5,464.20 L149.5,463.77 L150.5,463.30 L151.5,462.79 L152.5,462.22 L153.5,461.61 L154.5,460.94 L155.5,460.21 L156.5,459.42 L157.5,458.56 L158.5,457.63 L159.5,456.63 L160.5,455.55 L161.5,454.39 L162.5,453.15 L163.5,451.81 L164.5,450.38 L165.5,448.85 L166.5,447.21 L167.5,445.47 L168.5,443.62 L169.5,441.65 L170.5,439.57 L171.5,437.36 L172.5,435.03 L173.5,432.56 L174.5,429.97 L175.5,427.24 L176.5,424.36 L177.5,421.35 L178.5,418.20 L179.5,414.89 L180.5,411.45 L181.5,407.85 L182.5,404.10 L183.5,400.20 L184.5,396.16 L185.5,391.96 L186.5,387.61 L187.5,383.11 L188.5,378.47 L189.5,373.68 L190.5,368.75 L191.5,363.67 L192.5,358.46 L193.5,353.11 L194.5,347.64 L195.5,342.03 L196.5,336.31 L197.5,330.47 L198.5,324.52 L199.5,318.46 L200.5,312.31 L201.5,306.07 L202.5,299.74 L203.5,293.34 L204.5,286.86 L205.5,280.33 L206.5,273.74 L207.5,267.11 L208.5,260.45 L209.5,253.76 L210.5,247.05 L211.5,240.34 L212.5,233.63 L213.5,226.93 L214.5,220.25 L215.5,213.60 L216.5,207.00 L217.5,200.44 L218.5,193.95 L219.5,187.52 L220.5,181.18 L221.5,174.92 L222.5,168.77 L223.5,162.72 L224.5,156.79 L225.5,150.98 L226.5,145.31 L227.5,139.77 L228.5,134.39 L229.5,129.17 L230.5,124.11 L231.5,119.22 L232.5,114.50 L233.5,109.98 L234.5,105.63 L235.5,101.49 L236.5,97.54 L237.5,93.79 L238.5,90.25 L239.5,86.92 L240.5,83.80 L241.5,80.89 L242.5,78.20 L243.5,75.73 L244.5,73.47 L245.5,71.42 L246.5,69.60 L247.5,67.99 L248.5,66.59 L249.5,65.40 L250.5,64.42 L251.5,63.65 L252.5,63.08 L253.5,62.71 L254.5,62.53 L255.5,62.54 L256.5,62.74 L257.5,63.12 L258.5,63.66 L259.5,64.38 L260.5,65.26 L261.5,66.29 L262.5,67.48 L263.5,68.80 L264.5,70.26 L265.5,71.85 L266.5,73.55 L267.5,75.38 L268.5,77.30 L269.5,79.33 L270.5,81.45 L271.5,83.66 L272.5,85.94 L273.5,88.30 L274.5,90.72 L275.5,93.20 L276.5,95.73 L277.5,98.31 L278.5,100.93 L279.5,103.58 L280.5,106.26 L281.5,108.97 L282.5,111.69 L283.5,114.43 L284.5,117.18 L285.5,119.93 L286.5,122.69 L287.5,125.44 L288.5,128.19 L289.5,130.93 L290.5,133.67 L291.5,136.38 L292.5,139.09 L293.5,141.77 L294.5,144.44 L295.5,147.09 L296.5,149.72 L297.5,152.33 L298.5,154.92 L299.5,157.48 L300.5,160.02 L301.5,162.54 L302.5,165.04 L303.5,167.52 L304.5,169.98 L305.5,172.42 L306.5,174.84 L307.5,177.24 L308.5,179.62 L309.5,181.99 L310.5,184.35 L311.5,186.69 L312.5,189.02 L313.5,191.34 L314.5,193.66 L315.5,195.96 L316.5,198.27 L317.5,200.56 L318.5,202.86 L319.5,205.16 L320.5,207.45 L321.5,209.75 L322.5,212.06 L323.5,214.36 L324.5,216.68 L325.5,219.00 L326.5,221.33 L327.5,223.67 L328.5,226.02 L329.5,228.38 L330.5,230.76 L331.5,233.14 L332.5,235.54 L333.5,237.96 L334.5,240.39 L335.5,242.83 L336.5,245.30 L337.5,247.77 L338.5,250.26 L339.5,252.77 L340.5,255.29 L341.5,257.83 L342.5,260.38 L343.5,262.95 L344.5,265.53 L345.5,268.12 L346.5,270.73 L347.5,273.35 L348.5,275.98 L349.5,278.62 L350.5,281.28 L351.5,283.94 L352.5,286.61 L353.5,289.28 L354.5,291.96 L355.5,294.65 L356.5,297.34 L357.5,300.04 L358.5,302.73 L359.5,305.43 L360.5,308.12 L361.5,310.81 L362.5,313.50 L363.5,316.19 L364.5,318.87 L365.5,321.54 L366.5,324.20 L367.5,326.86 L368.5,329.50 L369.5,332.13 L370.5,334.75 L371.5,337.35 L372.5,339.94 L373.5,342.52 L374.5,345.07 L375.5,347.61 L376.5,350.12 L377.5,352.62 L378.5,355.09 L379.5,357.54 L380.5,359.97 L381.5,362.37 L382.5,364.75 L383.5,367.10 L384.5,369.43 L385.5,371.72 L386.5,373.99 L387.5,376.23 L388.5,378.44 L389.5,380.62 L390.5,382.77 L391.5,384.89 L392.5,386.98 L393.5,389.03 L394.5,391.06 L395.5,393.05 L396.5,395.00 L397.5,396.93 L398.5,398.82 L399.5,400.68 L400.5,402.50 L401.5,404.30 L402.5,406.05 L403.5,407.78 L404.5,409.47 L405.5,411.12 L406.5,412.75 L407.5,414.34 L408.5,415.89 L409.5,417.42 L410.5,418.91 L411.5,420.36 L412.5,421.79 L413.5,423.18 L414.5,424.54 L415.5,425.87 L416.5,427.17 L417.5,428.43 L418.5,429.67 L419.5,430.87 L420.5,432.05 L421.5,433.19 L422.5,434.31 L423.5,435.40 L424.5,436.45 L425.5,437.49 L426.5,438.49 L427.5,439.46 L428.5,440.41 L429.5,441.34 L430.5,442.23 L431.5,443.11 L432.5,443.95 L433.5,444.78 L434.5,445.57 L435.5,446.35 L436.5,447.10 L437.5,447.83 L438.5,448.54 L439.5,449.23 L440.5,449.89 L441.5,450.54 L442.5,451.16 L443.5,451.77 L444.5,452.36 L445.5,452.92 L446.5,453.47 L447.5,454.01 L448.5,454.52 L449.5,455.02 L450.5,455.50 L451.5,455.97 L452.5,456.42 L453.5,456.85 L454.5,457.27 L455.5,457.68 L456.5,458.07 L457.5,458.45 L458.5,458.81 L459.5,459.17 L460.5,459.51 L461.5,459.84 L462.5,460.15 L463.5,460.46 L464.5,460.75 L465.5,461.04 L466.5,461.31 L467.5,461.57 L468.5,461.83 L469.5,462.07 L470.5,462.31 L471.5,462.53 L472.5,462.75 L473.5,462.96 L474.5,463.16 L475.5,463.36 L476.5,463.55 L477.5,463.73 L478.5,463.90 L479.5,464.07 L480.5,464.23 L481.5,464.38 L482.5,464.53 L483.5,464.67 L484.5,464.80 L485.5,464.94 L486.5,465.06 L487.5,465.18 L488.5,465.30 L489.5,465.41 L490.5,465.52 L491.5,465.62 L492.5,465.72 L493.5,465.81 L494.5,465.90 L495.5,465.99 L496.5,466.07 L497.5,466.15 L498.5,466.23 L499.5,466.30 L500.5,466.37 L501.5,466.44 L502.5,466.50 L503.5,466.57 L504.5,466.63 L505.5,466.68 L506.5,466.74 L507.5,466.79 L508.5,466.84 L509.5,466.89 L510.5,466.93 L511.5,466.97 L512.5,467.02 L513.5,467.06 L514.5,467.09 L515.5,467.13 L516.5,467.17 L517.5,467.20 L518.5,467.23 L519.5,467.26 L520.5,467.29 L521.5,467.32 L522.5,467.35 L523.5,467.37 L524.5,467.40 L525.5,467.42 L526.5,467.44 L527.5,467.46 L528.5,467.48 L529.5,467.50 L530.5,467.52 L531.5,467.54 L532.5,467.56 L533.5,467.57 L534.5,467.59 L535.5,467.60 L536.5,467.62 L537.5,467.63 L538.5,467.64 L539.5,467.65 L540.5,467.67 L541.5,467.68 L542.5,467.69 L543.5,467.70 L544.5,467.71 L545.5,467.72 L546.5,467.72 L547.5,467.73 L548.5,467.74 L549.5,467.75 L550.5,467.76 L551.5,467.76 L552.5,467.77 L553.5,467.78 L554.5,467.78 L555.5,467.79 L556.5,467.79 L557.5,467.80 L558.5,467.80 L559.5,467.81 L560.5,467.81 L561.5,467.82 L562.5,467.82 L563.5,467.82 L564.5,467.83 L565.5,467.83 L566.5,467.83 L567.5,467.84 L568.5,467.84 L569.5,467.84 L570.5,467.85 L571.5,467.85 L572.5,467.85 L573.5,467.85 L574.5,467.86 L575.5,467.86 L576.5,467.86 L577.5,467.86 L578.5,467.86 L579.5,467.87 L580.5,467.87 L581.5,467.87 L582.5,467.87 L583.5,467.87 L584.5,467.87 L585.5,467.87 L586.5,467.88 L587.5,467.88 L588.5,467.88 L589.5,467.88 L590.5,467.88 L591.5,467.88 L592.5,467.88 L593.5,467.88 L594.5,467.88 L595.5,467.88 L596.5,467.89 L597.5,467.89 L598.5,467.89 L599.5,467.89 L600.5,467.89 L601.5,467.89 L602.5,467.89 L603.5,467.89 L604.5,467.89 L605.5,467.89 L606.5,467.89 L607.5,467.89 L608.5,467.89 L609.5,467.89 L610.5,467.89 L611.5,467.89 L612.5,467.89 L613.5,467.89 L614.5,467.89 L615.5,467.89 L616.5,467.89 L617.5,467.90 L618.5,467.90 L619.5,467.90 L620.5,467.90 L621.5,467.90 L622.5,467.90 L623.5,467.90 L624.5,467.90 L625.5,467.90 L626.5,467.90 L627.5,467.90 L628.5,467.90 L629.5,467.90 L630.5,467.90 L631.5,467.90 L632.5,467.90 L633.5,467.90 L634.5,467.90 L635.5,467.90 L636.5,467.90 L637.5,467.90 L638.5,467.90 L639.5,467.90 L640.5,467.90 L641.5,467.90 L642.5,467.90 L643.5,467.90 L644.5,467.90 L645.5,467.90 L646.5,467.90 L647.5,467.90 L648.5,467.90 L649.5,467.90 L650.5,467.90 L651.5,467.90 L652.5,467.90 L653.5,467.90 L654.5,467.90 L655.5,467.90 L656.5,467.90 L657.5,467.90 L658.5,467.90 L659.5,467.90 L660.5,467.90 L661.5,467.90 L662.5,467.90 L663.5,467.90 L664.5,467.90 L665.5,467.90 L666.5,467.90 L667.5,467.90 L668.5,467.90 L669.5,467.90 L670.5,467.90 L671.5,467.90 L672.0,467.90" stroke="#008000"/>
<path d="M106.8,467.90 L107.5,467.90 L108.5,467.90 L109.5,467.90 L110.5,467.90 L111.5,467.90 L112.5,467.90 L113.5,467.90 L114.5,467.90 L115.5,467.90 L116.5,467.90 L117.5,467.90 L118.5,467.90 L119.5,467.90 L120.5,467.90 L121.5,467.90 L122.5,467.90 L123.5,467.90 L124.5,467.90 L125.5,467.90 L126.5,467.90 L127.5,467.90 L128.5,467.90 L129.5,467.90 L130.5,467.90 L131.5,467.90 L132.5,467.90 L133.5,467.90 L134.5,467.90 L135.5,467.90 L136.5,467.90 L137.5,467.89 L138.5,467.89 L139.5,467.89 L140.5,467.89 L141.5,467.89 L142.5,467.89 L143.5,467.89 L144.5,467.88 L145.5,467.88 L146.5,467.88 L147.5,467.88 L148.5,467.87 L149.5,467.87 L150.5,467.87 L151.5,467.86 L152.5,467.86 L153.5,467.85 L154.5,467.85 L155.5,467.84 L156.5,467.83 L157.5,467.82 L158.5,467.81 L159.5,467.80 L160.5,467.79 L161.5,467.78 L162.5,467.77 L163.5,467.75 L164.5,467.73 L165.5,467.71 L166.5,467.69 L167.5,467.67 L168.5,467.64 L169.5,467.61 L170.5,467.58 L171.5,467.54 L172.5,467.51 L173.5,467.46 L174.5,467.42 L175.5,467.36 L176.5,467.31 L177.5,467.25 L178.5,467.18 L179.5,467.11 L180.5,467.02 L181.5,466.94 L182.5,466.84 L183.5,466.74 L184.5,466.62 L185.5,466.50 L186.5,466.36 L187.5,466.22 L188.5,466.06 L189.5,465.88 L190.5,465.70 L191.5,465.50 L192.5,465.28 L193.5,465.05 L194.5,464.79 L195.5,464.52 L196.5,464.23 L197.5,463.92 L198.5,463.58 L199.5,463.22 L200.5,462.84 L201.5,462.43 L202.5,461.99 L203.5,461.52 L204.5,461.02 L205.5,460.49 L206.5,459.93 L207.5,459.34 L208.5,458.71 L209.5,458.04 L210.5,457.33 L211.5,456.59 L212.5,455.81 L213.5,454.98 L214.5,454.12 L215.5,453.21 L216.5,452.26 L217.5,451.26 L218.5,450.22 L219.5,449.13 L220.5,447.99 L221.5,446.81 L222.5,445.58 L223.5,444.31 L224.5,442.98 L225.5,441.61 L226.5,440.19 L227.5,438.73 L228.5,437.22 L229.5,435.66 L230.5,434.05 L231.5,432.40 L232.5,430.71 L233.5,428.98 L234.5,427.20 L235.5,425.39 L236.5,423.53 L237.5,421.64 L238.5,419.71 L239.5,417.75 L240.5,415.76 L241.5,413.74 L242.5,411.69 L243.5,409.62 L244.5,407.52 L245.5,405.41 L246.5,403.27 L247.5,401.12 L248.5,398.96 L249.5,396.79 L250.5,394.61 L251.5,392.43 L252.5,390.24 L253.5,388.05 L254.5,385.87 L255.5,383.69 L256.5,381.52 L257.5,379.36 L258.5,377.22 L259.5,375.09 L260.5,372.97 L261.5,370.88 L262.5,368.81 L263.5,366.76 L264.5,364.73 L265.5,362.74 L266.5,360.77 L267.5,358.84 L268.5,356.93 L269.5,355.06 L270.5,353.23 L271.5,351.42 L272.5,349.66 L273.5,347.93 L274.5,346.24 L275.5,344.58 L276.5,342.96 L277.5,341.38 L278.5,339.84 L279.5,338.33 L280.5,336.86 L281.5,335.42 L282.5,334.02 L283.5,332.66 L284.5,331.33 L285.5,330.03 L286.5,328.76 L287.5,327.52 L288.5,326.31 L289.5,325.13 L290.5,323.97 L291.5,322.84 L292.5,321.72 L293.5,320.63 L294.5,319.56 L295.5,318.50 L296.5,317.46 L297.5,316.43 L298.5,315.41 L299.5,314.40 L300.5,313.40 L301.5,312.40 L302.5,311.40 L303.5,310.41 L304.5,309.41 L305.5,308.42 L306.5,307.42 L307.5,306.41 L308.5,305.39 L309.5,304.37 L310.5,303.33 L311.5,302.29 L312.5,301.23 L313.5,300.15 L314.5,299.06 L315.5,297.95 L316.5,296.82 L317.5,295.68 L318.5,294.51 L319.5,293.32 L320.5,292.12 L321.5,290.88 L322.5,289.63 L323.5,288.36 L324.5,287.06 L325.5,285.74 L326.5,284.40 L327.5,283.03 L328.5,281.64 L329.5,280.24 L330.5,278.80 L331.5,277.35 L332.5,275.88 L333.5,274.39 L334.5,272.88 L335.5,271.35 L336.5,269.80 L337.5,268.24 L338.5,266.67 L339.5,265.08 L340.5,263.48 L341.5,261.87 L342.5,260.25 L343.5,258.62 L344.5,256.98 L345.5,255.34 L346.5,253.70 L347.5,252.06 L348.5,250.42 L349.5,248.78 L350.5,247.14 L351.5,245.51 L352.5,243.89 L353.5,242.28 L354.5,240.67 L355.5,239.09 L356.5,237.51 L357.5,235.96 L358.5,234.42 L359.5,232.91 L360.5,231.41 L361.5,229.94 L362.5,228.50 L363.5,227.09 L364.5,225.70 L365.5,224.35 L366.5,223.03 L367.5,221.74 L368.5,220.49 L369.5,219.28 L370.5,218.11 L371.5,216.97 L372.5,215.89 L373.5,214.84 L374.5,213.84 L375.5,212.89 L376.5,211.98 L377.5,211.12 L378.5,210.31 L379.5,209.55 L380.5,208.85 L381.5,208.19 L382.5,207.59 L383.5,207.05 L384.5,206.56 L385.5,206.12 L386.5,205.74 L387.5,205.42 L388.5,205.15 L389.5,204.94 L390.5,204.79 L391.5,204.70 L392.5,204.66 L393.5,204.69 L394.5,204.77 L395.5,204.91 L396.5,205.11 L397.5,205.37 L398.5,205.68 L399.5,206.06 L400.5,206.49 L401.5,206.98 L402.5,207.52 L403.5,208.12 L404.5,208.78 L405.5,209.49 L406.5,210.26 L407.5,211.08 L408.5,211.96 L409.5,212.89 L410.5,213.87 L411.5,214.90 L412.5,215.98 L413.5,217.12 L414.5,218.30 L415.5,219.52 L416.5,220.80 L417.5,222.12 L418.5,223.48 L419.5,224.89 L420.5,226.35 L421.5,227.84 L422.5,229.37 L423.5,230.94 L424.5,232.56 L425.5,234.20 L426.5,235.89 L427.5,237.60 L428.5,239.36 L429.5,241.14 L430.5,242.95 L431.5,244.80 L432.5,246.67 L433.5,248.57 L434.5,250.50 L435.5,252.45 L436.5,254.42 L437.5,256.42 L438.5,258.44 L439.5,260.48 L440.5,262.54 L441.5,264.61 L442.5,266.70 L443.5,268.81 L444.5,270.93 L445.5,273.06 L446.5,275.21 L447.5,277.36 L448.5,279.53 L449.5,281.70 L450.5,283.88 L451.5,286.07 L452.5,288.26 L453.5,290.46 L454.5,292.66 L455.5,294.86 L456.5,297.06 L457.5,299.27 L458.5,301.47 L459.5,303.67 L460.5,305.87 L461.5,308.06 L462.5,310.25 L463.5,312.44 L464.5,314.62 L465.5,316.79 L466.5,318.96 L467.5,321.12 L468.5,323.27 L469.5,325.40 L470.5,327.53 L471.5,329.65 L472.5,331.76 L473.5,333.85 L474.5,335.94 L475.5,338.00 L476.5,340.06 L477.5,342.10 L478.5,344.13 L479.5,346.14 L480.5,348.13 L481.5,350.11 L482.5,352.07 L483.5,354.02 L484.5,355.95 L485.5,357.86 L486.5,359.75 L487.5,361.62 L488.5,363.48 L489.5,365.31 L490.5,367.13 L491.5,368.93 L492.5,370.71 L493.5,372.47 L494.5,374.21 L495.5,375.93 L496.5,377.62 L497.5,379.30 L498.5,380.96 L499.5,382.60 L500.5,384.21 L501.5,385.81 L502.5,387.38 L503.5,388.94 L504.5,390.47 L505.5,391.98 L506.5,393.47 L507.5,394.94 L508.5,396.39 L509.5,397.82 L510.5,399.23 L511.5,400.61 L512.5,401.98 L513.5,403.32 L514.5,404.65 L515.5,405.95 L516.5,407.24 L517.5,408.50 L518.5,409.74 L519.5,410.96 L520.5,412.17 L521.5,413.35 L522.5,414.51 L523.5,415.66 L524.5,416.78 L525.5,417.88 L526.5,418.97 L527.5,420.04 L528.5,421.09 L529.5,422.11 L530.5,423.13 L531.5,424.12 L532.5,425.09 L533.5,426.05 L534.5,426.99 L535.5,427.91 L536.5,428.82 L537.5,429.70 L538.5,430.57 L539.5,431.43 L540.5,432.26 L541.5,433.09 L542.5,433.89 L543.5,434.68 L544.5,435.45 L545.5,436.21 L546.5,436.96 L547.5,437.68 L548.5,438.40 L549.5,439.10 L550.5,439.78 L551.5,440.45 L552.5,441.11 L553.5,441.75 L554.5,442.38 L555.5,443.00 L556.5,443.60 L557.5,444.19 L558.5,444.77 L559.5,445.33 L560.5,445.88 L561.5,446.43 L562.5,446.95 L563.5,447.47 L564.5,447.98 L565.5,448.47 L566.5,448.96 L567.5,449.43 L568.5,449.89 L569.5,450.35 L570.5,450.79 L571.5,451.22 L572.5,451.64 L573.5,452.05 L574.5,452.46 L575.5,452.85 L576.5,453.23 L577.5,453.61 L578.5,453.98 L579.5,454.33 L580.5,454.68 L581.5,455.03 L582.5,455.36 L583.5,455.68 L584.5,456.00 L585.5,456.31 L586.5,456.62 L587.5,456.91 L588.5,457.20 L589.5,457.48 L590.5,457.75 L591.5,458.02 L592.5,458.28 L593.5,458.54 L594.5,458.79 L595.5,459.03 L596.5,459.27 L597.5,459.50 L598.5,459.72 L599.5,459.94 L600.5,460.15 L601.5,460.36 L602.5,460.56 L603.5,460.76 L604.5,460.96 L605.5,461.14 L606.5,461.33 L607.5,461.51 L608.5,461.68 L609.5,461.85 L610.5,462.01 L611.5,462.17 L612.5,462.33 L613.5,462.48 L614.5,462.63 L615.5,462.78 L616.5,462.92 L617.5,463.06 L618.5,463.19 L619.5,463.32 L620.5,463.45 L621.5,463.57 L622.5,463.69 L623.5,463.81 L624.5,463.92 L625.5,464.03 L626.5,464.14 L627.5,464.25 L628.5,464.35 L629.5,464.45 L630.5,464.55 L631.5,464.64 L632.5,464.73 L633.5,464.82 L634.5,464.91 L635.5,464.99 L636.5,465.07 L637.5,465.15 L638.5,465.23 L639.5,465.31 L640.5,465.38 L641.5,465.45 L642.5,465.52 L643.5,465.59 L644.5,465.66 L645.5,465.72 L646.5,465.78 L647.5,465.84 L648.5,465.90 L649.5,465.96 L650.5,466.01 L651.5,466.07 L652.5,466.12 L653.5,466.17 L654.5,466.22 L655.5,466.27 L656.5,466.32 L657.5,466.36 L658.5,466.41 L659.5,466.45 L660.5,466.49 L661.5,466.53 L662.5,466.57 L663.5,466.61 L664.5,466.65 L665.5,466.69 L666.5,466.72 L667.5,466.76 L668.5,466.79 L669.5,466.82 L670.5,466.85 L671.5,466.88 L672.0,466.90" stroke="#000080"/>
<path d="M106.8,467.90 L107.5,467.90 L108.5,467.90 L109.5,467.90 L110.5,467.90 L111.5,467.90 L112.5,467.90 L113.5,467.89 L114.5,467.89 L115.5,467.89 L116.5,467.89 L117.5,467.89 L118.5,467.89 L119.5,467.88 L120.5,467.88 L121.5,467.88 L122.5,467.87 L123.5,467.87 L124.5,467.86 L125.5,467.86 L126.5,467.85 L127.5,467.84 L128.5,467.83 L129.5,467.82 L130.5,467.81 L131.5,467.79 L132.5,467.77 L133.5,467.75 L134.5,467.73 L135.5,467.71 L136.5,467.68 L137.5,467.65 L138.5,467.62 L139.5,467.58 L140.5,467.53 L141.5,467.48 L142.5,467.43 L143.5,467.37 L144.5,467.30 L145.5,467.22 L146.5,467.14 L147.5,467.04 L148.5,466.94 L149.5,466.82 L150.5,466.69 L151.5,466.56 L152.5,466.40 L153.5,466.23 L154.5,466.05 L155.5,465.85 L156.5,465.62 L157.5,465.38 L158.5,465.12 L159.5,464.83 L160.5,464.52 L161.5,464.19 L162.5,463.82 L163.5,463.43 L164.5,463.00 L165.5,462.54 L166.5,462.05 L167.5,461.52 L168.5,460.94 L169.5,460.33 L170.5,459.68 L171.5,458.97 L172.5,458.22 L173.5,457.42 L174.5,456.57 L175.5,455.66 L176.5,454.70 L177.5,453.68 L178.5,452.59 L179.5,451.44 L180.5,450.23 L181.5,448.94 L182.5,447.59 L183.5,446.16 L184.5,444.66 L185.5,443.08 L186.5,441.42 L187.5,439.68 L188.5,437.86 L189.5,435.96 L190.5,433.96 L191.5,431.88 L192.5,429.71 L193.5,427.45 L194.5,425.10 L195.5,422.65 L196.5,420.11 L197.5,417.47 L198.5,414.74 L199.5,411.92 L200.5,408.99 L201.5,405.97 L202.5,402.85 L203.5,399.64 L204.5,396.33 L205.5,392.92 L206.5,389.42 L207.5,385.83 L208.5,382.14 L209.5,378.36 L210.5,374.49 L211.5,370.53 L212.5,366.48 L213.5,362.35 L214.5,358.14 L215.5,353.85 L216.5,349.48 L217.5,345.03 L218.5,340.52 L219.5,335.93 L220.5,331.28 L221.5,326.57 L222.5,321.80 L223.5,316.98 L224.5,312.10 L225.5,307.18 L226.5,302.21 L227.5,297.21 L228.5,292.17 L229.5,287.11 L230.5,282.02 L231.5,276.90 L232.5,271.77 L233.5,266.64 L234.5,261.49 L235.5,256.34 L236.5,251.20 L237.5,246.06 L238.5,240.93 L239.5,235.82 L240.5,230.74 L241.5,225.68 L242.5,220.65 L243.5,215.66 L244.5,210.71 L245.5,205.81 L246.5,200.95 L247.5,196.15 L248.5,191.41 L249.5,186.73 L250.5,182.12 L251.5,177.58 L252.5,173.12 L253.5,168.73 L254.5,164.43 L255.5,160.21 L256.5,156.09 L257.5,152.05 L258.5,148.11 L259.5,144.27 L260.5,140.53 L261.5,136.90 L262.5,133.37 L263.5,129.96 L264.5,126.65 L265.5,123.46 L266.5,120.38 L267.5,117.42 L268.5,114.58 L269.5,111.86 L270.5,109.26 L271.5,106.78 L272.5,104.42 L273.5,102.19 L274.5,100.09 L275.5,98.10 L276.5,96.24 L277.5,94.51 L278.5,92.90 L279.5,91.42 L280.5,90.06 L281.5,88.82 L282.5,87.70 L283.5,86.71 L284.5,85.84 L285.5,85.09 L286.5,84.46 L287.5,83.94 L288.5,83.54 L289.5,83.25 L290.5,83.08 L291.5,83.02 L292.5,83.06 L293.5,83.22 L294.5,83.48 L295.5,83.84 L296.5,84.30 L297.5,84.86 L298.5,85.51 L299.5,86.26 L300.5,87.10 L301.5,88.03 L302.5,89.05 L303.5,90.15 L304.5,91.33 L305.5,92.59 L306.5,93.92 L307.5,95.33 L308.5,96.81 L309.5,98.35 L310.5,99.97 L311.5,101.64 L312.5,103.38 L313.5,105.17 L314.5,107.02 L315.5,108.92 L316.5,110.88 L317.5,112.88 L318.5,114.92 L319.5,117.01 L320.5,119.15 L321.5,121.32 L322.5,123.52 L323.5,125.76 L324.5,128.04 L325.5,130.34 L326.5,132.68 L327.5,135.04 L328.5,137.42 L329.5,139.83 L330.5,142.27 L331.5,144.72 L332.5,147.19 L333.5,149.68 L334.5,152.19 L335.5,154.71 L336.5,157.24 L337.5,159.79 L338.5,162.35 L339.5,164.92 L340.5,167.50 L341.5,170.09 L342.5,172.68 L343.5,175.29 L344.5,177.90 L345.5,180.52 L346.5,183.14 L347.5,185.77 L348.5,188.41 L349.5,191.05 L350.5,193.69 L351.5,196.34 L352.5,198.98 L353.5,201.64 L354.5,204.29 L355.5,206.95 L356.5,209.61 L357.5,212.27 L358.5,214.94 L359.5,217.61 L360.5,220.27 L361.5,222.94 L362.5,225.62 L363.5,228.29 L364.5,230.96 L365.5,233.64 L366.5,236.31 L367.5,238.99 L368.5,241.66 L369.5,244.34 L370.5,247.02 L371.5,249.69 L372.5,252.37 L373.5,255.05 L374.5,257.72 L375.5,260.39 L376.5,263.07 L377.5,265.74 L378.5,268.41 L379.5,271.07 L380.5,273.73 L381.5,276.39 L382.5,279.05 L383.5,281.70 L384.5,284.35 L385.5,286.99 L386.5,289.62 L387.5,292.25 L388.5,294.88 L389.5,297.49 L390.5,300.10 L391.5,302.70 L392.5,305.29 L393.5,307.87 L394.5,310.44 L395.5,313.00 L396.5,315.55 L397.5,318.09 L398.5,320.61 L399.5,323.12 L400.5,325.61 L401.5,328.10 L402.5,330.56 L403.5,333.01 L404.5,335.44 L405.5,337.86 L406.5,340.26 L407.5,342.64 L408.5,345.00 L409.5,347.34 L410.5,349.66 L411.5,351.96 L412.5,354.23 L413.5,356.49 L414.5,358.72 L415.5,360.94 L416.5,363.12 L417.5,365.29 L418.5,367.42 L419.5,369.54 L420.5,371.63 L421.5,373.69 L422.5,375.73 L423.5,377.74 L424.5,379.73 L425.5,381.68 L426.5,383.62 L427.5,385.52 L428.5,387.40 L429.5,389.24 L430.5,391.06 L431.5,392.86 L432.5,394.62 L433.5,396.36 L434.5,398.07 L435.5,399.75 L436.5,401.40 L437.5,403.02 L438.5,404.61 L439.5,406.18 L440.5,407.72 L441.5,409.23 L442.5,410.71 L443.5,412.16 L444.5,413.58 L445.5,414.98 L446.5,416.35 L447.5,417.69 L448.5,419.01 L449.5,420.29 L450.5,421.55 L451.5,422.79 L452.5,424.00 L453.5,425.18 L454.5,426.33 L455.5,427.46 L456.5,428.57 L457.5,429.65 L458.5,430.70 L459.5,431.73 L460.5,432.74 L461.5,433.72 L462.5,434.68 L463.5,435.62 L464.5,436.53 L465.5,437.42 L466.5,438.29 L467.5,439.14 L468.5,439.97 L469.5,440.77 L470.5,441.56 L471.5,442.32 L472.5,443.07 L473.5,443.80 L474.5,444.50 L475.5,445.19 L476.5,445.86 L477.5,446.52 L478.5,447.15 L479.5,447.77 L480.5,448.37 L481.5,448.95 L482.5,449.52 L483.5,450.07 L484.5,450.61 L485.5,451.13 L486.5,451.64 L487.5,452.14 L488.5,452.62 L489.5,453.08 L490.5,453.53 L491.5,453.97 L492.5,454.40 L493.5,454.81 L494.5,455.22 L495.5,455.61 L496.5,455.99 L497.5,456.36 L498.5,456.71 L499.5,457.06 L500.5,457.40 L501.5,457.72 L502.5,458.04 L503.5,458.35 L504.5,458.64 L505.5,458.93 L506.5,459.21 L507.5,459.48 L508.5,459.75 L509.5,460.00 L510.5,460.25 L511.5,460.49 L512.5,460.72 L513.5,460.95 L514.5,461.17 L515.5,461.38 L516.5,461.58 L517.5,461.78 L518.5,461.98 L519.5,462.16 L520.5,462.34 L521.5,462.52 L522.5,462.69 L523.5,462.85 L524.5,463.01 L525.5,463.17 L526.5,463.32 L527.5,463.46 L528.5,463.60 L529.5,463.74 L530.5,463.87 L531.5,464.00 L532.5,464.12 L533.5,464.24 L534.5,464.36 L535.5,464.47 L536.5,464.58 L537.5,464.68 L538.5,464.79 L539.5,464.88 L540.5,464.98 L541.5,465.07 L542.5,465.16 L543.5,465.25 L544.5,465.33 L545.5,465.41 L546.5,465.49 L547.5,465.57 L548.5,465.64 L549.5,465.71 L550.5,465.78 L551.5,465.85 L552.5,465.91 L553.5,465.98 L554.5,466.04 L555.5,466.10 L556.5,466.15 L557.5,466.21 L558.5,466.26 L559.5,466.31 L560.5,466.37 L561.5,466.41 L562.5,466.46 L563.5,466.51 L564.5,466.55 L565.5,466.59 L566.5,466.63 L567.5,466.67 L568.5,466.71 L569.5,466.75 L570.5,466.79 L571.5,466.82 L572.5,466.86 L573.5,466.89 L574.5,466.92 L575.5,466.95 L576.5,466.98 L577.5,467.01 L578.5,467.04 L579.5,467.07 L580.5,467.09 L581.5,467.12 L582.5,467.14 L583.5,467.17 L584.5,467.19 L585.5,467.21 L586.5,467.23 L587.5,467.25 L588.5,467.27 L589.5,467.29 L590.5,467.31 L591.5,467.33 L592.5,467.35 L593.5,467.37 L594.5,467.38 L595.5,467.40 L596.5,467.42 L597.5,467.43 L598.5,467.45 L599.5,467.46 L600.5,467.47 L601.5,467.49 L602.5,467.50 L603.5,467.51 L604.5,467.52 L605.5,467.54 L606.5,467.55 L607.5,467.56 L608.5,467.57 L609.5,467.58 L610.5,467.59 L611.5,467.60 L612.5,467.61 L613.5,467.62 L614.5,467.63 L615.5,467.64 L616.5,467.64 L617.5,467.65 L618.5,467.66 L619.5,467.67 L620.5,467.67 L621.5,467.68 L622.5,467.69 L623.5,467.70 L624.5,467.70 L625.5,467.71 L626.5,467.71 L627.5,467.72 L628.5,467.73 L629.5,467.73 L630.5,467.74 L631.5,467.74 L632.5,467.75 L633.5,467.75 L634.5,467.76 L635.5,467.76 L636.5,467.76 L637.5,467.77 L638.5,467.77 L639.5,467.78 L640.5,467.78 L641.5,467.78 L642.5,467.79 L643.5,467.79 L644.5,467.80 L645.5,467.80 L646.5,467.80 L647.5,467.80 L648.5,467.81 L649.5,467.81 L650.5,467.81 L651.5,467.82 L652.5,467.82 L653.5,467.82 L654.5,467.82 L655.5,467.83 L656.5,467.83 L657.5,467.83 L658.5,467.83 L659.5,467.83 L660.5,467.84 L661.5,467.84 L662.5,467.84 L663.5,467.84 L664.5,467.84 L665.5,467.85 L666.5,467.85 L667.5,467.85 L668.5,467.85 L669.5,467.85 L670.5,467.85 L671.5,467.86 L672.0,467.86" stroke="#8000ff"/>
</g>
<g stroke="#000" stroke-width="2"><line x1="97" y1="467.90" x2="105.8" y2="467.90"/><line x1="97" y1="375.84" x2="105.8" y2="375.84"/><line x1="97" y1="283.78" x2="105.8" y2="283.78"/><line x1="97" y1="191.72" x2="105.8" y2="191.72"/><line x1="97" y1="99.66" x2="105.8" y2="99.66"/><line x1="97" y1="7.60" x2="105.8" y2="7.60"/><line x1="167.50" y1="467.9" x2="167.50" y2="476.7"/><line x1="293.38" y1="467.9" x2="293.38" y2="476.7"/><line x1="419.25" y1="467.9" x2="419.25" y2="476.7"/><line x1="545.12" y1="467.9" x2="545.12" y2="476.7"/><line x1="671.00" y1="467.9" x2="671.00" y2="476.7"/></g>
<g><text x="91.2" y="473.20" text-anchor="end" class="nl">0</text><text x="91.2" y="381.14" text-anchor="end" class="nl">50000</text><text x="91.2" y="289.08" text-anchor="end" class="nl">100000</text><text x="91.2" y="197.02" text-anchor="end" class="nl">150000</text><text x="91.2" y="104.96" text-anchor="end" class="nl">200000</text><text x="91.2" y="12.90" text-anchor="end" class="nl">250000</text><text x="168.00" y="498.8" text-anchor="middle" class="nl">400</text><text x="293.88" y="498.8" text-anchor="middle" class="nl">500</text><text x="419.75" y="498.8" text-anchor="middle" class="nl">600</text><text x="545.62" y="498.8" text-anchor="middle" class="nl">700</text><text x="671.50" y="498.8" text-anchor="middle" class="nl">800</text></g>
<rect x="534.2" y="16.1" width="122.6" height="187.8" fill="none" stroke="#505050" stroke-width="2"/>
<g stroke-width="2"><line x1="541.5" y1="31.30" x2="590" y2="31.30" stroke="#000000"/><text x="595" y="39.00" class="lt">TTBR</text><line x1="541.5" y1="58.10" x2="590" y2="58.10" stroke="#ff0000"/><text x="595" y="65.42" class="lt">TTB1</text><line x1="541.5" y1="84.05" x2="590" y2="84.05" stroke="#0000ff"/><text x="595" y="91.84" class="lt">TTB2</text><line x1="541.5" y1="111.00" x2="590" y2="111.00" stroke="#ff00ff"/><text x="595" y="118.26" class="lt">TTB3</text><line x1="541.5" y1="137.90" x2="590" y2="137.90" stroke="#008000"/><text x="595" y="144.68" class="lt">TTB4</text><line x1="541.5" y1="164.05" x2="590" y2="164.05" stroke="#000080"/><text x="595" y="171.10" class="lt">TTB5</text><line x1="541.5" y1="190.70" x2="590" y2="190.70" stroke="#8000ff"/><text x="595" y="197.52" class="lt">TTB6</text></g>
<text x="316" y="40" style="letter-spacing:0.58px">Dichloromethane</text>
<text x="310.5" y="535" style="letter-spacing:0.62px">Wavelength (<tspan font-style="italic">nm</tspan>)</text>
<text transform="translate(16.7,385.5) rotate(-90)" style="letter-spacing:0.66px">Molar Asorptivity Coefficient (<tspan font-style="italic" font-weight="normal">ε</tspan>)</text>
</svg>
</body></html>
